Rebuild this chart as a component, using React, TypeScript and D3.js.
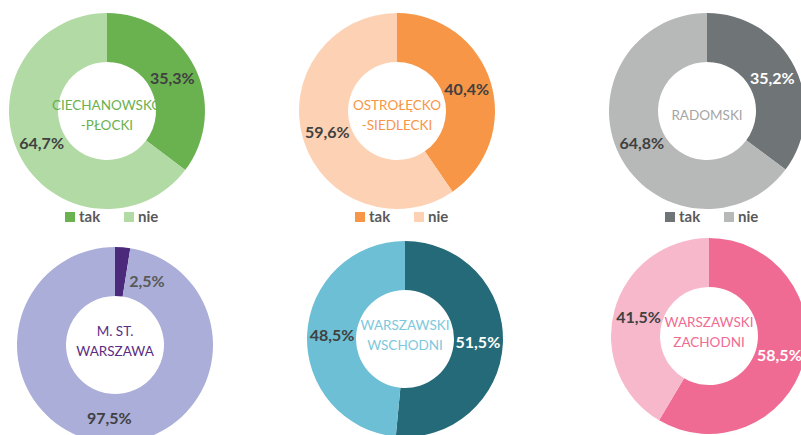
import React from "react";
import * as d3 from "d3";

const REGIONS: string[][] = [
  ["CIECHANOWSKO", "-PŁOCKI"],
  ["OSTROŁĘCKO", "-SIEDLECKI"],
  ["RADOMSKI"],
  ["M. ST.", "WARSZAWA"],
  ["WARSZAWSKI", "WSCHODNI"],
  ["WARSZAWSKI", "ZACHODNI"],
];
const SERIES = ["tak", "nie"];
const TAK = [35.3, 40.4, 35.2, 2.5, 51.5, 58.5];
const NIE = [64.7, 59.6, 64.8, 97.5, 48.5, 41.5];
const SHOW_LEGEND = [true, true, true, false, false, false];

const TAK_COLORS = ["#6AB150", "#F79646", "#6F7477", "#4B2A7B", "#256A78", "#F06B93"];
const NIE_COLORS = ["#B1DAA4", "#FDD1B3", "#B7B8B8", "#AAAED8", "#6CBFD4", "#F7B8CB"];
const TITLE_COLORS = ["#6AB150", "#F79646", "#A5A5A5", "#5A2D82", "#7DC8DC", "#F06B93"];
const TAK_LABEL_COLORS = ["#404040", "#404040", "#FFFFFF", "#595959", "#FFFFFF", "#FFFFFF"];
const NIE_LABEL_COLORS = ["#404040", "#404040", "#404040", "#404040", "#404040", "#404040"];

// layout (pixel positions of each donut)
const CENTERS: [number, number][] = [
  [107, 111],
  [397, 111],
  [707, 111],
  [115, 345],
  [405, 339],
  [709, 336],
];
const R_OUT = 98;
const R_IN = 49;
const FONT = "Lato, 'Open Sans', sans-serif";

const fmt = (v: number) => d3.format(".1f")(v).replace(".", ",") + "%";

function Donut({ i }: { i: number }) {
  const [cx, cy] = CENTERS[i];
  const values = [TAK[i], NIE[i]];
  const colors = [TAK_COLORS[i], NIE_COLORS[i]];
  const labelColors = [TAK_LABEL_COLORS[i], NIE_LABEL_COLORS[i]];
  const pie = d3.pie<number>().sort(null).value((d) => d);
  const arcs = pie(values);
  const arc = d3.arc<d3.PieArcDatum<number>>().innerRadius(R_IN).outerRadius(R_OUT);
  const rho = (R_IN + R_OUT) / 2 - 0.5;
  const lines = REGIONS[i];
  const lh = 20;
  const titleShift = i < 3 ? 4 : -4;
  return (
    <g transform={`translate(${cx},${cy})`}>
      {arcs.map((a, k) => (
        <path key={k} d={arc(a) as string} fill={colors[k]} />
      ))}
      {arcs.map((a, k) => {
        let ang = (a.startAngle + a.endAngle) / 2;
        let r = rho;
        if (a.value < 5) {
          ang = a.endAngle + 0.31;
          r = 71;
        }
        const x = r * Math.sin(ang);
        const y = -r * Math.cos(ang);
        return (
          <text
            key={"l" + k}
            x={x}
            y={y}
            dy="0.36em"
            textAnchor="middle"
            fontFamily={FONT}
            fontWeight={700}
            fontSize={16}
            fill={labelColors[k]}
          >
            {fmt(a.value)}
          </text>
        );
      })}
      {lines.map((t, k) => (
        <text
          key={"t" + k}
          x={0}
          y={titleShift + (k - (lines.length - 1) / 2) * lh}
          dy="0.36em"
          textAnchor="middle"
          fontFamily={FONT}
          fontSize={13.5}
          fill={TITLE_COLORS[i]}
        >
          {t}
        </text>
      ))}
      {SHOW_LEGEND[i] &&
        SERIES.map((s, k) => (
          <g key={"g" + k} transform={`translate(${-42 + k * 59},${106})`}>
            <rect x={0} y={-5} width={10} height={10} fill={colors[k]} />
            <text
              x={14}
              y={0}
              dy="0.36em"
              fontFamily={FONT}
              fontWeight={700}
              fontSize={15}
              fill="#595959"
            >
              {s}
            </text>
          </g>
        ))}
    </g>
  );
}

export default function App() {
  return (
    <svg
      width={801}
      height={435}
      style={{ position: "absolute", left: 0, top: 0, background: "#FFFFFF" }}
    >
      <rect width={801} height={435} fill="#FFFFFF" />
      {REGIONS.map((_, i) => (
        <Donut key={i} i={i} />
      ))}
    </svg>
  );
}
